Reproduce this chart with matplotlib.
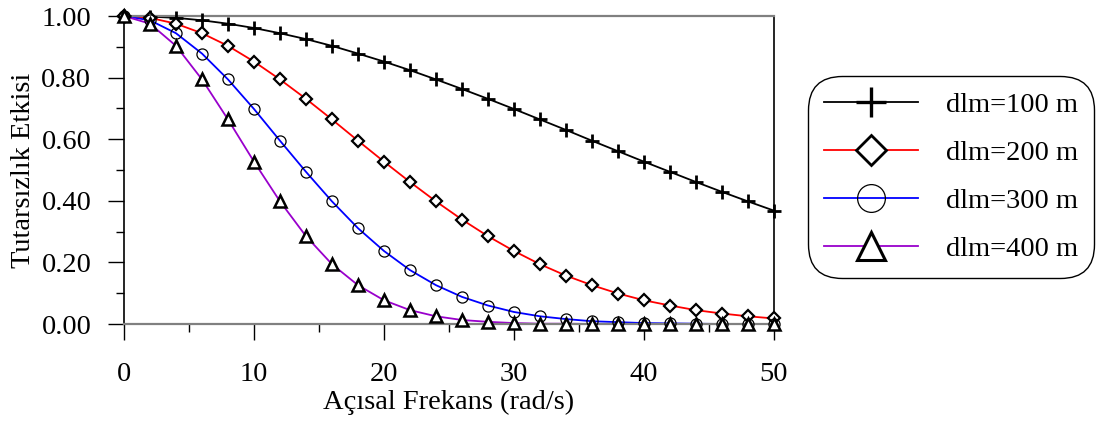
import matplotlib.pyplot as plt
from matplotlib.lines import Line2D

plt.rcParams['font.family'] = ['Liberation Serif', 'DejaVu Serif']

# angular frequency (rad/s)
w = [0, 2, 4, 6, 8, 10, 12, 14, 16, 18, 20, 22, 24, 26, 28, 30,
     32, 34, 36, 38, 40, 42, 44, 46, 48, 50]

# incoherence effect
d100 = [1.000, 0.998, 0.994, 0.986, 0.975, 0.961, 0.944, 0.925, 0.903, 0.878,
        0.852, 0.824, 0.794, 0.763, 0.731, 0.698, 0.664, 0.630, 0.595, 0.561,
        0.527, 0.494, 0.461, 0.429, 0.398, 0.368]
d200 = [1.000, 0.994, 0.975, 0.944, 0.903, 0.852, 0.794, 0.731, 0.664, 0.595,
        0.527, 0.461, 0.398, 0.339, 0.285, 0.237, 0.194, 0.157, 0.126, 0.099,
        0.077, 0.060, 0.045, 0.034, 0.025, 0.018]
d300 = [1.000, 0.986, 0.944, 0.878, 0.794, 0.698, 0.595, 0.494, 0.398, 0.311,
        0.237, 0.175, 0.126, 0.088, 0.060, 0.039, 0.025, 0.016, 0.009, 0.006,
        0.003, 0.002, 0.001, 0.000, 0.000, 0.000]
d400 = [1.000, 0.975, 0.903, 0.794, 0.664, 0.527, 0.398, 0.285, 0.194, 0.126,
        0.077, 0.045, 0.025, 0.013, 0.007, 0.003, 0.001, 0.001, 0.000, 0.000,
        0.000, 0.000, 0.000, 0.000, 0.000, 0.000]

labels = ['dlm=100 m', 'dlm=200 m', 'dlm=300 m', 'dlm=400 m']
colors = ['black', 'red', 'blue', '#9900cc']
markers = ['+', 'D', 'o', '^']
msizes = [10.5, 6.5, 8, 9]
mews = [2.0, 1.6, 0.9, 1.8]
small_leg = [22, 15, 20, 20]
fs = 20.5

fig = plt.figure(figsize=(10.99, 4.21), dpi=100)
ax = fig.add_axes([124 / 1099, 1 - 324 / 421, 650 / 1099, 308 / 421])

series = [d100, d200, d300, d400]
handles = []
for ys, c, m, ms, mew, lms in zip(series, colors, markers, msizes, mews, small_leg):
    ax.plot(w, ys, color=c, lw=1.3, zorder=2, clip_on=False)
    fc = 'none' if m == 'o' else 'white'
    ax.plot(w, ys, ls='none', marker=m, ms=ms, mew=mew, mec='black', mfc=fc,
            zorder=3, clip_on=False)
    handles.append(Line2D([], [], color=c, lw=1.3, marker=m, ms=lms,
                          mew=mew + 0.4 if m != 'o' else 0.9,
                          mec='black', mfc=fc))

ax.set_xlim(0, 50)
ax.set_ylim(0, 1)
ax.set_xticks([0, 10, 20, 30, 40, 50])
ax.set_xticks([5, 15, 25, 35, 45], minor=True)
ax.set_yticks([0, 0.2, 0.4, 0.6, 0.8, 1.0])
ax.set_yticks([0.1, 0.3, 0.5, 0.7, 0.9], minor=True)
ax.set_yticklabels(['0.00', '0.20', '0.40', '0.60', '0.80', '1.00'])
ax.tick_params(axis='both', which='major', length=11.5, width=1, labelsize=fs,
               direction='out')
ax.tick_params(axis='both', which='minor', length=6, width=1, direction='out')
ax.tick_params(axis='x', which='major', pad=16)
ax.tick_params(axis='y', which='major', pad=12)

for s in ['top', 'bottom']:
    ax.spines[s].set_color('#808080')
    ax.spines[s].set_linewidth(1.6)
for s in ['left', 'right']:
    ax.spines[s].set_color('black')
    ax.spines[s].set_linewidth(1.2)

ax.set_xlabel('Açısal Frekans (rad/s)', fontsize=fs, labelpad=2)
ax.set_ylabel('Tutarsızlık Etkisi', fontsize=fs, labelpad=4)

leg = fig.legend(handles, labels, loc='upper left',
                 bbox_to_anchor=(808 / 1099, 1 - 76 / 421),
                 fontsize=fs, frameon=True, fancybox=True, handlelength=3.3,
                 handletextpad=1.0, labelspacing=0.78, borderpad=0.55,
                 borderaxespad=0)
frame = leg.get_frame()
frame.set_edgecolor('black')
frame.set_linewidth(1.0)
frame.set_boxstyle('round', pad=0, rounding_size=1.2)
frame.set_alpha(1)

fig.savefig('out.png', dpi=100)
